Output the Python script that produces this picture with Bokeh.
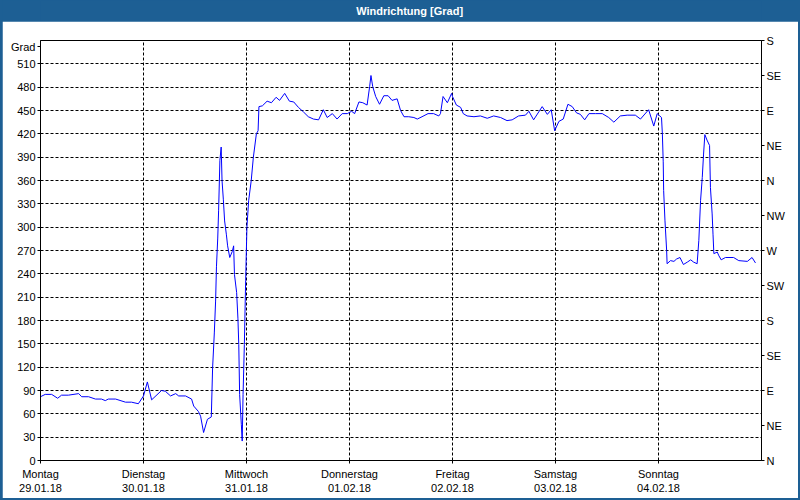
from bokeh.plotting import figure
from bokeh.layouts import column
from bokeh.models import LinearAxis, FixedTicker, Range1d
from bokeh.embed import file_html
from bokeh.resources import INLINE

# ---- data (hours since Monday 00:00, wind direction in degrees, unwrapped) ----
hours = [0.0, 1.1, 2.6, 4.0, 4.9, 6.5, 8.9, 9.6, 11.2, 12.8,
         14.2, 15.1, 15.8, 17.5, 19.8, 21.2, 22.8, 24.0, 24.9, 25.9,
         28.2, 29.1, 30.3, 31.5, 32.2, 33.8, 35.2, 35.7, 36.8, 37.3,
         38.0, 38.9, 39.8, 40.1, 40.5, 40.8, 41.0, 41.3, 41.5, 41.8,
         42.1, 42.3, 42.6, 42.9, 43.3, 43.6, 44.1, 44.7, 45.0, 45.2,
         45.7, 46.0, 46.2, 46.4, 46.8, 47.0, 47.2, 47.5, 47.8, 48.1,
         48.5, 49.1, 49.6, 50.3, 50.7, 50.9, 51.7, 52.8, 53.8, 54.9,
         55.7, 56.9, 58.0, 59.0, 60.1, 61.3, 62.4, 63.6, 64.8, 65.9,
         66.8, 68.0, 69.1, 70.3, 71.5, 72.5, 73.2, 74.2, 75.1, 76.1,
         76.7, 77.0, 77.4, 78.1, 79.0, 80.0, 81.0, 81.9, 83.1, 83.9,
         84.7, 85.8, 87.0, 87.8, 88.9, 90.3, 91.6, 92.8, 93.2, 93.8,
         94.8, 95.8, 96.0, 96.9, 97.9, 98.5, 99.4, 101.0, 102.5, 104.1,
         105.6, 107.2, 108.7, 109.9, 111.4, 113.0, 113.8, 114.9, 116.9, 118.1,
         119.0, 119.8, 120.8, 121.8, 122.9, 123.9, 124.9, 125.8, 126.8, 127.8,
         129.3, 130.9, 132.4, 133.6, 135.1, 136.7, 138.6, 139.8, 141.7, 142.9,
         143.7, 144.3, 144.7, 144.9, 145.1, 145.2, 145.5, 145.9, 146.0, 146.8,
         147.6, 148.2, 149.0, 149.8, 150.7, 151.5, 152.2, 153.0, 153.4, 153.8,
         154.2, 154.5, 154.8, 155.3, 155.9, 156.1, 156.5, 156.7, 156.9, 157.7,
         158.0, 158.6, 159.6, 161.5, 162.7, 164.7, 165.8, 166.6]
direction = [82, 85, 85, 80, 84, 84, 86, 82, 82, 79,
             79, 77, 79, 79, 75, 75, 73, 83, 101, 78,
             90, 89, 83, 86, 83, 83, 79, 70, 63, 57,
             36, 53, 56, 119, 164, 205, 249, 286, 321, 386,
             403, 360, 336, 308, 291, 276, 261, 269, 276, 239,
             216, 183, 149, 85, 46, 25, 85, 149, 231, 300,
             334, 360, 390, 420, 424, 455, 456, 462, 460, 467,
             463, 472, 462, 461, 454, 448, 442, 439, 438, 451,
             441, 446, 439, 446, 446, 449, 446, 461, 460, 457,
             481, 495, 481, 468, 458, 469, 469, 463, 465, 450,
             442, 442, 441, 439, 442, 446, 446, 443, 446, 468,
             460, 472, 468, 457, 454, 446, 443, 442, 443, 440,
             443, 441, 437, 438, 443, 444, 449, 438, 455, 445,
             451, 424, 436, 439, 458, 455, 447, 445, 438, 446,
             446, 446, 441, 435, 443, 444, 444, 439, 451, 430,
             446, 443, 441, 420, 384, 347, 309, 270, 253, 257,
             256, 259, 261, 252, 255, 258, 255, 253, 283, 334,
             364, 394, 419, 412, 405, 351, 317, 291, 266, 268,
             264, 258, 261, 261, 257, 256, 261, 254]
assert len(hours) == len(direction)

day_ticks = [0, 24, 48, 72, 96, 120, 144]
day_labels = ["Montag\n29.01.18", "Dienstag\n30.01.18", "Mittwoch\n31.01.18",
              "Donnerstag\n01.02.18", "Freitag\n02.02.18", "Samstag\n03.02.18",
              "Sonntag\n04.02.18"]
deg_ticks = list(range(0, 511, 30))
unit_tick = 532
unit_text = "Grad"
compass_ticks = list(range(0, 541, 45))
compass_labels = ["N", "NE", "E", "SE", "S", "SW", "W", "NW", "N", "NE", "E", "SE", "S"]
title_text = "Windrichtung [Grad]"

FONT = "Liberation Sans"
FS = "11px"
BLUE = "#1d5f94"
W = 796

# ---- title bar ----
tf = figure(width=W, height=21, output_backend="svg", toolbar_location=None,
            x_range=Range1d(0, 1), y_range=Range1d(0, 1),
            x_axis_type=None, y_axis_type=None, min_border=0)
tf.background_fill_color = BLUE
tf.border_fill_color = BLUE
tf.outline_line_color = None
tf.text(x=[0.512], y=[0.52], text=[title_text], text_color="white",
        text_font_style="bold", text_font_size=FS,
        text_align="center", text_baseline="middle",
        text_font={"value": FONT})

# ---- main chart ----
p = figure(width=W, height=477, output_backend="svg", toolbar_location=None,
           x_range=Range1d(0, 168), y_range=Range1d(0, 540),
           min_border_left=38, min_border_right=37, min_border_top=19, min_border_bottom=38)
p.background_fill_color = "white"
p.border_fill_color = "white"
p.outline_line_color = "black"
p.outline_line_alpha = 1.0


def style_axis(ax):
    ax.axis_line_color = "black"
    ax.major_tick_line_color = "black"
    ax.major_tick_in = 0
    ax.major_tick_out = 3
    ax.minor_tick_line_color = None
    ax.major_label_text_font = FONT
    ax.major_label_text_font_size = FS
    ax.major_label_text_color = "black"


xa = p.xaxis[0]
xa.ticker = FixedTicker(ticks=day_ticks)
xa.major_label_overrides = {t: l for t, l in zip(day_ticks, day_labels)}
style_axis(xa)
xa.major_label_standoff = 4

ya = p.yaxis[0]
ya.ticker = FixedTicker(ticks=deg_ticks + [unit_tick])
ya.major_label_overrides = {unit_tick: unit_text}
style_axis(ya)
ya.major_label_standoff = 2

ra = LinearAxis(ticker=FixedTicker(ticks=compass_ticks),
                major_label_overrides={t: l for t, l in zip(compass_ticks, compass_labels)})
style_axis(ra)
ra.major_label_standoff = 2
p.add_layout(ra, "right")

p.xgrid.ticker = FixedTicker(ticks=day_ticks[1:])
p.ygrid.ticker = FixedTicker(ticks=deg_ticks[1:])
for g in (p.xgrid[0], p.ygrid[0]):
    g.grid_line_color = "black"
    g.grid_line_dash = "3 2"
    g.grid_line_width = 1

p.line(hours, direction, line_color="#0000ff", line_width=1)

layout = column(tf, p, spacing=0,
                styles={"background-color": BLUE, "padding": "0px 2px 2px 2px"})

open("out.html", "w").write(file_html(layout, INLINE))
